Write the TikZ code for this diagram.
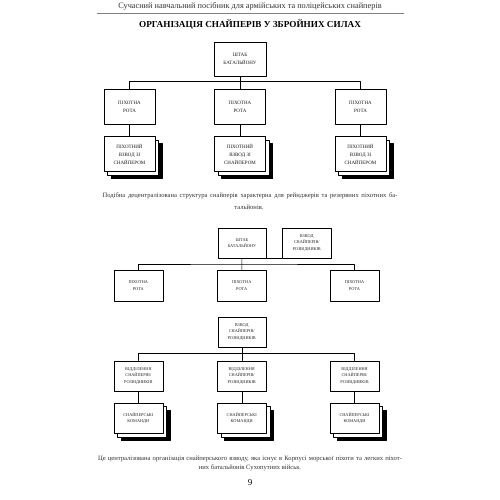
\documentclass[tikz,border=0pt]{standalone}
\usepackage{fontspec}
\setmainfont{Liberation Serif}
\usetikzlibrary{shadows}

\begin{document}
\begin{tikzpicture}[x=1pt, y=-1pt, line join=round, line cap=round, thin,
	box/.style={draw, fill=white, inner sep=0pt, align=center, text=black!90, font=\fontsize{5}{8}\selectfont},
	sbox/.style={box, text=black!85, font=\fontsize{4.3}{6.2}\selectfont},
	pile/.style={copy shadow={shadow xshift=7pt, shadow yshift=-7pt, fill=black, draw=black},
		copy shadow={shadow xshift=3.5pt, shadow yshift=-3.5pt, fill=white, draw=black}}]
	\useasboundingbox[fill=white] (0, 0) rectangle (500, 500);
	\node[text=black!80, font=\fontsize{8.3}{9}\selectfont] (head) at (250, 6.7) {Сучасний навчальний посібник для армійських та поліцейських снайперів};
	\draw[gray, thin] (97, 13.3) -- (404, 13.3);
	\node[font=\fontsize{9.2}{10}\bfseries] (title) at (250, 25) {ОРГАНІЗАЦІЯ СНАЙПЕРІВ У ЗБРОЙНИХ СИЛАХ};
	\node[box, minimum width=52, minimum height=34] (shtab) at (240, 59) {ШТАБ\\БАТАЛЬЙОНУ};
	\foreach \i/\x in {1/129.5, 2/240, 3/360.5} {
		\node[box, minimum width=51, minimum height=35] (rota\i) at (\x, 106.5) {ПІХОТНА\\РОТА};
		\node[box, pile, minimum width=51, minimum height=35] (pv\i) at (\x, 154) {ПІХОТНИЙ\\ВЗВОД ЗІ\\СНАЙПЕРОМ};
		\draw (rota\i) -- (pv\i);
	}
	\coordinate (bus1) at (240, 81.7);
	\draw (shtab) -- (rota2);
	\draw (rota1.north) |- (bus1) -| (rota3.north);
	\node[font=\fontsize{6.6}{8}\selectfont, text=black!80] (cap1) at (250, 196) {\makebox[295pt][s]{Подібна децентралізована структура снайперів характерна для рейнджерів та резервних піхотних ба-}};
	\node[font=\fontsize{6.6}{8}\selectfont, text=black!80] (cap1b) at (249, 207.7) {тальйонів.};
	\node[sbox, minimum width=48, minimum height=30] (shtabb) at (242, 243) {ШТАБ\\БАТАЛЬЙОНУ};
	\node[sbox, minimum width=49, minimum height=30] (vzvod) at (306.7, 243) {ВЗВОД\\СНАЙПЕРІВ/\\РОЗВІДНИКІВ};
	\draw (shtabb.south east) -- (vzvod.south west);
	\foreach \i/\x in {1/138.3, 2/241.7, 3/354.5}
		\node[sbox, minimum width=49, minimum height=31] (rotb\i) at (\x, 285.5) {ПІХОТНА\\РОТА};
	\coordinate (bus2) at (241.7, 264);
	\draw (shtabb) -- (rotb2);
	\draw (rotb1.north) |- (bus2) -| (rotb3.north);
	\node[sbox, minimum width=48, minimum height=30] (vzvodb) at (241.7, 332) {ВЗВОД\\СНАЙПЕРІВ/\\РОЗВІДНИКІВ};
	\foreach \i/\x in {1/138.3, 2/241.7, 3/354.5} {
		\node[sbox, minimum width=49, minimum height=30.5] (vid\i) at (\x, 376) {ВІДДІЛЕННЯ\\СНАЙПЕРІВ/\\РОЗВІДНИКІВ};
		\node[sbox, pile, minimum width=49, minimum height=30.5] (kom\i) at (\x, 418.3) {СНАЙПЕРСЬКІ\\КОМАНДИ};
		\draw (vid\i) -- (kom\i);
	}
	\coordinate (bus3) at (241.7, 353.3);
	\draw (vzvodb) -- (vid2);
	\draw (vid1.north) |- (bus3) -| (vid3.north);
	\node[font=\fontsize{6.6}{8}\selectfont, text=black!80] (cap2) at (250, 459) {\makebox[304pt][s]{Це централізована організація снайперського взводу, яка існує в Корпусі морської піхоти та легких піхот-}};
	\node[font=\fontsize{6.6}{8}\selectfont, text=black!80] (cap2b) at (250, 468) {них батальйонів Сухопутних військ.};
	\node[font=\fontsize{9}{10}\selectfont] (page) at (250, 483) {9};
\end{tikzpicture}
\end{document}
